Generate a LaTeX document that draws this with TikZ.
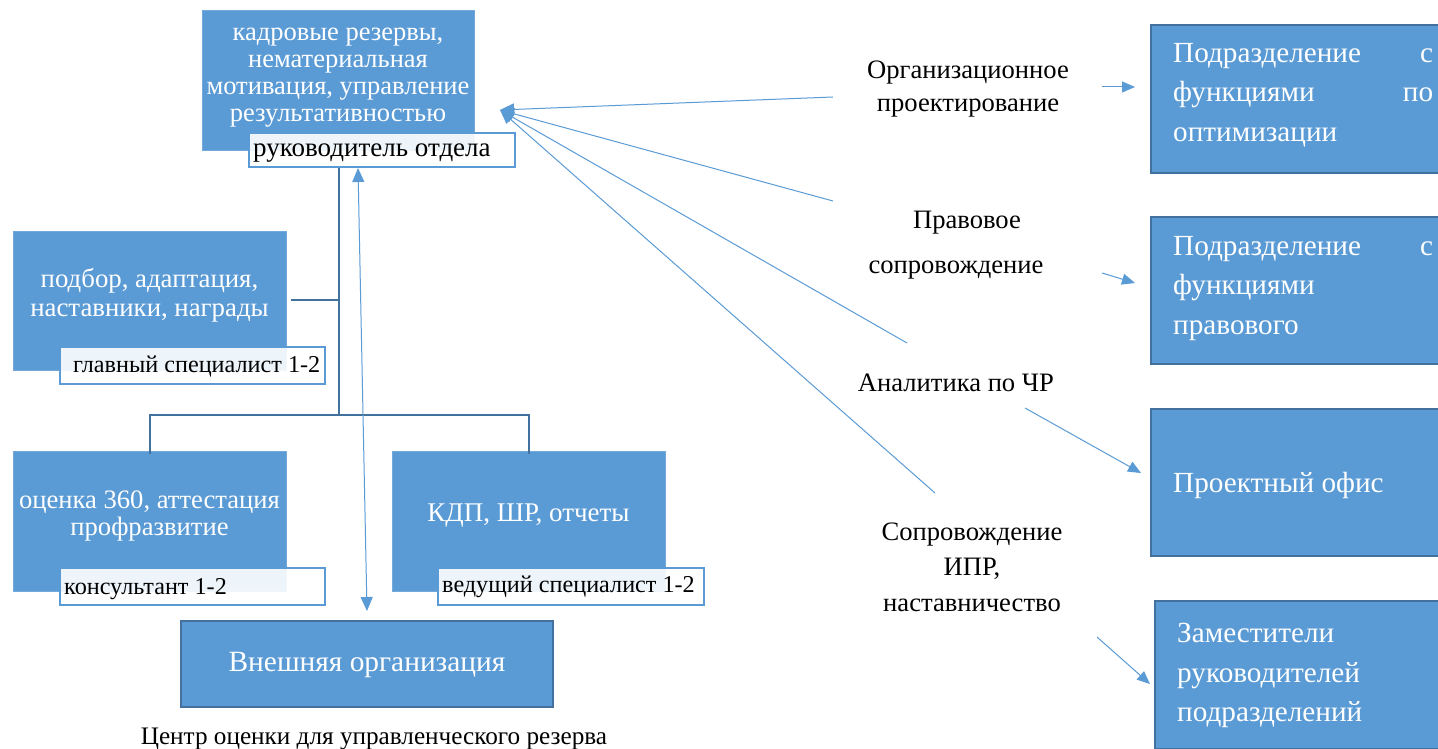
\documentclass[tikz,border=0pt]{standalone}
\usepackage{fontspec}
\setmainfont{Liberation Serif}
\usetikzlibrary{arrows.meta}
\definecolor{acc}{HTML}{5B9BD5}
\definecolor{accd}{HTML}{41719C}
\tikzset{
  bluebox/.style={fill=acc, draw=acc!85!white, line width=0.8pt, inner sep=0pt},
  darkbox/.style={fill=acc, draw=accd, line width=2.2pt, inner sep=0pt},
  labbox/.style={draw=acc, line width=2.4pt, fill=white, fill opacity=0.9, text opacity=1, inner sep=0pt},
  wtext/.style={text=white, inner sep=0pt, align=center},
  btext/.style={text=black, inner sep=0pt, align=center},
  orgline/.style={draw=accd, line width=2.4pt},
  thinarrow/.style={draw=acc, line width=1pt, -{Triangle[length=14pt,width=12pt]}},
  smallarrow/.style={draw=acc, line width=1pt, -{Triangle[length=13pt,width=11pt]}},
}
\begin{document}
\begin{tikzpicture}[x=1pt,y=-1pt]
\useasboundingbox (0,0) rectangle (1438,749);
\clip (0,0) rectangle (1438,749);
\fill[white] (0,0) rectangle (1438,749);

% top box
\node[bluebox, anchor=north west, minimum width=272pt, minimum height=140pt] (b1) at (202,10) {};
\node[wtext, font=\fontsize{26.5}{27.2}\selectfont] (t1) at (338,77.5) {кадровые резервы,\\нематериальная\\мотивация, управление\\результативностью};
\node[labbox, anchor=north west, minimum width=266pt, minimum height=34pt] (l1) at (248,132) {};
\node[btext, anchor=west, font=\fontsize{27}{28}\selectfont] (lt1) at (253,153) {руководитель отдела};

% box 2
\node[bluebox, anchor=north west, minimum width=273pt, minimum height=139pt] (b2) at (13,231) {};
\node[wtext, font=\fontsize{26.8}{29}\selectfont] (t2) at (149.5,295) {подбор, адаптация,\\наставники, награды};
\node[labbox, anchor=north west, minimum width=265pt, minimum height=37pt] (l2) at (59,346) {};
\node[btext, anchor=west, font=\fontsize{24.2}{26}\selectfont] (lt2) at (73,367) {главный специалист 1-2};

% box 3
\node[bluebox, anchor=north west, minimum width=273pt, minimum height=140pt] (b3) at (13,451) {};
\node[wtext, font=\fontsize{26.6}{27}\selectfont] (t3) at (149.5,516) {оценка 360, аттестация\\профразвитие};
\node[labbox, anchor=north west, minimum width=265pt, minimum height=37pt] (l3) at (59,567) {};
\node[btext, anchor=west, font=\fontsize{24.2}{26}\selectfont] (lt3) at (64,589) {консультант 1-2};

% box 4
\node[bluebox, anchor=north west, minimum width=273pt, minimum height=140pt] (b4) at (392,451) {};
\node[wtext, font=\fontsize{27}{28}\selectfont] (t4) at (528.5,516) {КДП, ШР, отчеты};
\node[labbox, anchor=north west, minimum width=266pt, minimum height=37pt] (l4) at (437,567) {};
\node[btext, anchor=west, font=\fontsize{24.2}{26}\selectfont] (lt4) at (442,587) {ведущий специалист 1-2};

% external organisation
\node[darkbox, anchor=north west, minimum width=372pt, minimum height=86pt] (ext) at (180,620) {};
\node[wtext, font=\fontsize{29.4}{31}\selectfont] (text) at (367,665) {Внешняя организация};
\node[btext, font=\fontsize{25.2}{27}\selectfont] (cap) at (374,739) {Центр оценки для управленческого резерва};

% org lines
\coordinate (j1) at (339,300);
\coordinate (j2) at (339,415);
\draw[orgline] (l1.south -| j1) -- (j2);
\draw[orgline] ([xshift=4pt]b2.east |- j1) -- (j1);
\draw[orgline] ([yshift=-3pt]b3.north) |- (j2) -| ([yshift=-3pt]b4.north);

% double arrow
\coordinate (da1) at (358,168);
\coordinate (da2) at (367,611);
\draw[draw=acc, line width=1pt, {Triangle[length=14pt,width=12pt]}-{Triangle[length=14pt,width=12pt]}] (da1) -- (da2);

% right labels
\node[btext, font=\fontsize{26.6}{33}\selectfont] (o1) at (968,89.5) {Организационное\\проектирование};
\node[btext, font=\fontsize{26.6}{28}\selectfont] (p1) at (967,223) {Правовое};
\node[btext, font=\fontsize{26.6}{28}\selectfont] (p2) at (956,270) {сопровождение};
\node[btext, font=\fontsize{26.6}{28}\selectfont] (an) at (956,383) {Аналитика по ЧР};
\node[btext, font=\fontsize{26.6}{35.5}\selectfont] (sp) at (972,567) {Сопровождение\\ИПР,\\наставничество};

% fan of arrows to top box
\coordinate (hub) at (500,110);
\coordinate (s1) at (833,97);
\coordinate (s2) at (833,201);
\coordinate (s3) at (907,343);
\coordinate (s4) at (935,493);
\draw[thinarrow] (s1) -- (hub);
\draw[thinarrow] (s2) -- (hub);
\draw[thinarrow] (s3) -- (hub);
\draw[thinarrow] (s4) -- (hub);

% right boxes
\node[darkbox, anchor=north west, minimum width=310pt, minimum height=148pt] (r1) at (1150,24) {};
\node[darkbox, anchor=north west, minimum width=310pt, minimum height=147pt] (r2) at (1150,216) {};
\node[darkbox, anchor=north west, minimum width=310pt, minimum height=147pt] (r3) at (1150,408) {};
\node[darkbox, anchor=north west, minimum width=310pt, minimum height=148pt] (r4) at (1154,600) {};

\node[text=white, inner sep=0pt, anchor=north west, align=left, font=\fontsize{29.2}{39.5}\selectfont] (rt1) at (1173,43)
  {\hbox to 260pt{Подразделение\hfill с}\\\hbox to 260pt{функциями\hfill по}\\оптимизации};
\node[text=white, inner sep=0pt, anchor=north west, align=left, font=\fontsize{29.2}{39.5}\selectfont] (rt2) at (1173,236)
  {\hbox to 260pt{Подразделение\hfill с}\\функциями\\правового};
\node[text=white, inner sep=0pt, anchor=west, font=\fontsize{29.2}{30}\selectfont] (rt3) at (1173,485) {Проектный офис};
\node[text=white, inner sep=0pt, anchor=north west, align=left, font=\fontsize{29.2}{39.5}\selectfont] (rt4) at (1177,623)
  {Заместители\\руководителей\\подразделений};

% small arrows to right boxes
\coordinate (a1) at (1102,87);
\coordinate (a2) at (1102,273);
\coordinate (a3) at (1025,408);
\coordinate (a4) at (1097,637);
\draw[smallarrow] (a1) -- ([xshift=-15pt]r1.west |- a1);
\draw[smallarrow] (a2) -- ([xshift=-15pt]r2.west |- 0,283);
\draw[smallarrow] (a3) -- ([xshift=-9pt]r3.west |- 0,473);
\draw[smallarrow] (a4) -- ([xshift=-4pt]r4.west |- 0,684);
\end{tikzpicture}
\end{document}
